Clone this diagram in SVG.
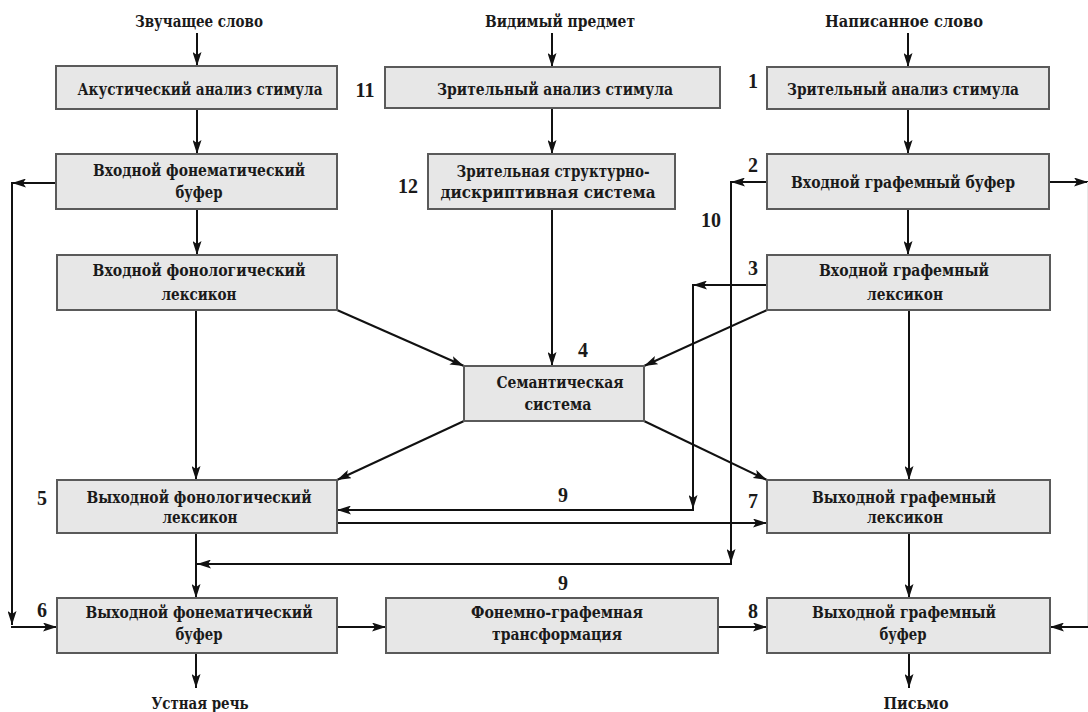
<svg xmlns="http://www.w3.org/2000/svg" width="1088" height="712" viewBox="0 0 1088 712">
<defs>
<marker id="ah" viewBox="0 0 14 9" refX="14" refY="4.5" markerWidth="14" markerHeight="9" markerUnits="userSpaceOnUse" orient="auto">
<path d="M0,0 L14,4.5 L0,9 L3,4.5 z" fill="#111"/>
</marker>
</defs>
<style>
.box{fill:#e7e7e7;stroke:#5a5a5a;stroke-width:2}
.t{font-family:"DejaVu Serif Condensed","DejaVu Serif","Liberation Serif",serif;font-stretch:condensed;font-weight:bold;font-size:16px;fill:#1a1a1a;text-anchor:middle}
.n{font-family:"Liberation Serif","DejaVu Serif",serif;font-weight:bold;font-size:20px;fill:#1a1a1a;text-anchor:middle}
.c{stroke:#111;stroke-width:2;fill:none}
.a{stroke:#111;stroke-width:2;fill:none;marker-end:url(#ah)}
</style>
<rect width="1088" height="712" fill="#ffffff"/>

<g id="inputs">
<text class="t" x="199" y="27" textLength="128" lengthAdjust="spacingAndGlyphs">Звучащее слово</text>
<text class="t" x="560" y="27" textLength="150" lengthAdjust="spacingAndGlyphs">Видимый предмет</text>
<text class="t" x="904" y="27" textLength="158" lengthAdjust="spacingAndGlyphs">Написанное слово</text>
</g>
<g id="outputs">
<text class="t" x="200" y="709" textLength="97" lengthAdjust="spacingAndGlyphs">Устная речь</text>
<text class="t" x="916" y="709" textLength="65" lengthAdjust="spacingAndGlyphs">Письмо</text>
</g>

<g id="connectors">
<line class="a" x1="197" y1="33" x2="197" y2="66"/>
<line class="a" x1="197" y1="109" x2="197" y2="154"/>
<line class="a" x1="56" y1="183" x2="12" y2="183"/>
<line class="a" x1="12" y1="182" x2="12" y2="625"/>
<line class="c" x1="11" y1="627" x2="20" y2="627"/>
<line class="a" x1="12" y1="627" x2="57" y2="627"/>
<line class="a" x1="197" y1="209" x2="197" y2="255"/>
<line class="a" x1="196" y1="310" x2="196" y2="480"/>
<line class="a" x1="337" y1="310" x2="464" y2="366"/>
<line class="a" x1="552" y1="33" x2="552" y2="67"/>
<line class="a" x1="552" y1="108" x2="552" y2="154"/>
<line class="a" x1="552" y1="209" x2="552" y2="366"/>
<line class="a" x1="908" y1="33" x2="908" y2="67"/>
<line class="a" x1="908" y1="109" x2="908" y2="154"/>
<line class="a" x1="767" y1="182" x2="731" y2="182"/>
<line class="a" x1="731" y1="181" x2="731" y2="563"/>
<line class="a" x1="732" y1="564" x2="197" y2="564"/>
<line class="a" x1="1049" y1="182" x2="1088" y2="182"/>
<line x1="1087.5" y1="182" x2="1087.5" y2="627" stroke="#e8e8e8" stroke-width="1"/>
<line class="a" x1="908" y1="209" x2="908" y2="255"/>
<line class="a" x1="767" y1="285" x2="693" y2="285"/>
<line class="a" x1="693" y1="284" x2="693" y2="509"/>
<line class="a" x1="694" y1="510" x2="337" y2="510"/>
<line class="a" x1="767" y1="310" x2="644" y2="366"/>
<line class="a" x1="909" y1="310" x2="909" y2="480"/>
<line class="a" x1="464" y1="421" x2="337" y2="480"/>
<line class="a" x1="644" y1="421" x2="767" y2="480"/>
<line class="a" x1="337" y1="523" x2="767" y2="523"/>
<line class="a" x1="196" y1="533" x2="196" y2="598"/>
<line class="a" x1="196" y1="653" x2="196" y2="688"/>
<line class="a" x1="337" y1="627" x2="386" y2="627"/>
<line class="a" x1="718" y1="627" x2="767" y2="627"/>
<line class="a" x1="909" y1="533" x2="909" y2="598"/>
<line class="a" x1="909" y1="653" x2="909" y2="688"/>
<line class="a" x1="1088" y1="627" x2="1050" y2="627"/>
</g>

<g id="n-acoustic">
<rect class="box" x="56" y="66" width="281" height="43"/>
<text class="t" x="200" y="95" textLength="245" lengthAdjust="spacingAndGlyphs">Акустический анализ стимула</text>
</g>
<g id="n-in-phonem-buffer">
<rect class="box" x="56" y="154" width="281" height="55"/>
<text class="t" x="199" y="176" textLength="212" lengthAdjust="spacingAndGlyphs">Входной фонематический</text>
<text class="t" x="199" y="198" textLength="47" lengthAdjust="spacingAndGlyphs">буфер</text>
</g>
<g id="n-in-phonol-lexicon">
<rect class="box" x="57" y="255" width="280" height="55"/>
<text class="t" x="199" y="276" textLength="213" lengthAdjust="spacingAndGlyphs">Входной фонологический</text>
<text class="t" x="199" y="300" textLength="75" lengthAdjust="spacingAndGlyphs">лексикон</text>
</g>
<g id="n-out-phonol-lexicon">
<rect class="box" x="57" y="480" width="280" height="53"/>
<text class="n" x="42" y="505">5</text>
<text class="t" x="199" y="503" textLength="225" lengthAdjust="spacingAndGlyphs">Выходной фонологический</text>
<text class="t" x="200" y="523" textLength="75" lengthAdjust="spacingAndGlyphs">лексикон</text>
</g>
<g id="n-out-phonem-buffer">
<rect class="box" x="57" y="598" width="280" height="55"/>
<text class="n" x="42" y="617">6</text>
<text class="t" x="199" y="618" textLength="227" lengthAdjust="spacingAndGlyphs">Выходной фонематический</text>
<text class="t" x="199" y="640" textLength="47" lengthAdjust="spacingAndGlyphs">буфер</text>
</g>
<g id="n-visual-analysis-mid">
<rect class="box" x="385" y="67" width="335" height="41"/>
<text class="n" x="365" y="97">11</text>
<text class="t" x="555" y="95" textLength="236" lengthAdjust="spacingAndGlyphs">Зрительный анализ стимула</text>
</g>
<g id="n-visual-struct">
<rect class="box" x="428" y="154" width="247" height="55"/>
<text class="n" x="408" y="193">12</text>
<text class="t" x="553" y="177" textLength="193" lengthAdjust="spacingAndGlyphs">Зрительная структурно-</text>
<text class="t" x="548" y="198" textLength="215" lengthAdjust="spacingAndGlyphs">дискриптивная система</text>
</g>
<g id="n-semantic">
<rect class="box" x="464" y="366" width="180" height="55"/>
<text class="n" x="583" y="357">4</text>
<text class="t" x="560" y="388" textLength="127" lengthAdjust="spacingAndGlyphs">Семантическая</text>
<text class="t" x="558" y="410" textLength="67" lengthAdjust="spacingAndGlyphs">система</text>
</g>
<g id="n-phoneme-grapheme">
<rect class="box" x="386" y="598" width="332" height="55"/>
<text class="t" x="557" y="618" textLength="172" lengthAdjust="spacingAndGlyphs">Фонемно-графемная</text>
<text class="t" x="557" y="640" textLength="130" lengthAdjust="spacingAndGlyphs">трансформация</text>
</g>
<g id="n-visual-analysis-right">
<rect class="box" x="767" y="67" width="282" height="42"/>
<text class="n" x="753" y="88">1</text>
<text class="t" x="903" y="95" textLength="232" lengthAdjust="spacingAndGlyphs">Зрительный анализ стимула</text>
</g>
<g id="n-in-graph-buffer">
<rect class="box" x="767" y="154" width="282" height="55"/>
<text class="n" x="753" y="172">2</text>
<text class="t" x="903" y="188" textLength="224" lengthAdjust="spacingAndGlyphs">Входной графемный буфер</text>
</g>
<g id="n-in-graph-lexicon">
<rect class="box" x="767" y="255" width="283" height="55"/>
<text class="n" x="753" y="275">3</text>
<text class="t" x="904" y="276" textLength="170" lengthAdjust="spacingAndGlyphs">Входной графемный</text>
<text class="t" x="905" y="300" textLength="76" lengthAdjust="spacingAndGlyphs">лексикон</text>
</g>
<g id="n-out-graph-lexicon">
<rect class="box" x="767" y="480" width="283" height="53"/>
<text class="n" x="753" y="508">7</text>
<text class="t" x="904" y="503" textLength="184" lengthAdjust="spacingAndGlyphs">Выходной графемный</text>
<text class="t" x="905" y="523" textLength="76" lengthAdjust="spacingAndGlyphs">лексикон</text>
</g>
<g id="n-out-graph-buffer">
<rect class="box" x="767" y="598" width="283" height="55"/>
<text class="n" x="753" y="618">8</text>
<text class="t" x="904" y="618" textLength="184" lengthAdjust="spacingAndGlyphs">Выходной графемный</text>
<text class="t" x="903" y="640" textLength="47" lengthAdjust="spacingAndGlyphs">буфер</text>
</g>
<g id="labels">
<text class="n" x="711" y="227">10</text>
<text class="n" x="563" y="502">9</text>
<text class="n" x="563" y="590">9</text>
</g>
</svg>
